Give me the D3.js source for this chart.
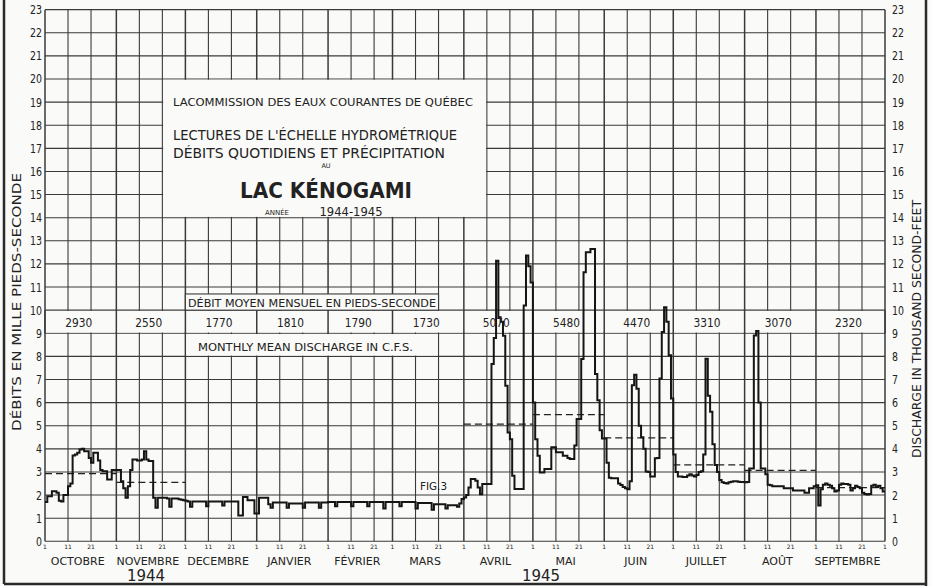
<!DOCTYPE html>
<html lang="fr">
<head>
  <meta charset="UTF-8">
  <title>Lac Kénogami – débits quotidiens 1944-1945</title>
  <script src="https://d3js.org/d3.v7.min.js"></script>
  <style>
    body { margin: 0; background: #fafaf8; }
    svg { display: block; background: #fafaf8; font-family: "DejaVu Sans", sans-serif; }
    .grid line { stroke: #3a3a3a; stroke-width: 1.1; }
    .grid line.mois { stroke-width: 1.5; }
    text { fill: #222; }
  </style>
</head>
<body>

<svg width="931" height="586"></svg>

<script>
  // Débits quotidiens, en milliers de pieds-seconde
  const octobre   = [1.7, 1.95, 1.95, 2.17, 2.17, 2.1, 1.75, 1.72, 2.0, 2.0, 2.38, 2.5, 3.71, 3.75, 3.83, 3.97, 4.0, 3.9, 3.9, 3.6, 3.4, 3.83, 3.83, 3.5, 3.08, 3.03, 3.03, 2.67, 2.67, 3.08, 3.08];
  const novembre  = [3.08, 3.08, 2.6, 2.3, 1.88, 2.38, 3.08, 3.54, 3.54, 3.5, 3.5, 3.54, 3.9, 3.54, 3.47, 3.47, 1.88, 1.45, 1.88, 1.88, 1.88, 1.88, 1.85, 1.5, 1.85, 1.85, 1.85, 1.82, 1.8, 1.78];
  const decembre  = [1.75, 1.72, 1.5, 1.72, 1.72, 1.72, 1.72, 1.72, 1.72, 1.52, 1.72, 1.72, 1.72, 1.72, 1.72, 1.72, 1.55, 1.72, 1.72, 1.72, 1.72, 1.72, 1.72, 1.12, 1.12, 1.92, 1.92, 1.78, 1.78, 1.78, 1.2];
  const janvier   = [1.2, 1.88, 1.88, 1.88, 1.88, 1.6, 1.45, 1.68, 1.68, 1.68, 1.68, 1.68, 1.68, 1.45, 1.64, 1.64, 1.64, 1.64, 1.64, 1.64, 1.45, 1.68, 1.68, 1.68, 1.68, 1.68, 1.68, 1.45, 1.68, 1.68, 1.68];
  const fevrier   = [1.7, 1.7, 1.7, 1.52, 1.7, 1.7, 1.7, 1.7, 1.7, 1.7, 1.52, 1.7, 1.7, 1.7, 1.7, 1.7, 1.7, 1.52, 1.7, 1.7, 1.7, 1.7, 1.7, 1.7, 1.42, 1.7, 1.7, 1.7];
  const mars      = [1.7, 1.7, 1.7, 1.52, 1.7, 1.7, 1.7, 1.7, 1.7, 1.7, 1.42, 1.66, 1.66, 1.66, 1.66, 1.66, 1.66, 1.37, 1.6, 1.6, 1.6, 1.6, 1.6, 1.42, 1.56, 1.56, 1.56, 1.56, 1.49, 1.63, 1.83];
  const avril     = [1.9, 2.0, 2.33, 2.69, 2.69, 2.62, 2.33, 2.04, 2.48, 2.48, 2.48, 2.48, 7.67, 8.8, 12.14, 9.69, 9.5, 8.89, 6.73, 4.71, 4.42, 2.84, 2.26, 2.26, 2.26, 2.26, 10.2, 12.36, 11.9, 11.2];
  const mai       = [6.0, 4.42, 3.7, 2.98, 2.98, 3.13, 3.13, 3.13, 4.07, 4.07, 3.85, 3.85, 3.85, 3.7, 3.7, 3.6, 3.56, 3.56, 4.14, 5.29, 5.29, 7.89, 11.64, 12.51, 12.51, 12.65, 12.65, 7.24, 6.1, 4.8, 4.45];
  const juin      = [4.45, 3.4, 2.75, 2.73, 2.73, 2.73, 2.5, 2.44, 2.35, 2.3, 2.25, 2.6, 6.75, 7.2, 6.6, 5.0, 4.5, 4.0, 3.02, 3.0, 2.8, 2.8, 3.59, 3.6, 7.04, 9.05, 10.13, 9.5, 8.05, 6.18];
  const juillet   = [3.75, 3.0, 2.8, 2.8, 2.78, 2.78, 2.85, 2.9, 2.85, 2.8, 2.87, 3.0, 3.03, 3.75, 7.9, 6.3, 5.6, 4.2, 3.3, 3.0, 2.65, 2.55, 2.52, 2.5, 2.55, 2.58, 2.6, 2.6, 2.58, 2.57, 2.57];
  const aout      = [2.55, 2.57, 3.15, 3.15, 8.9, 9.1, 6.0, 3.15, 3.15, 2.9, 2.45, 2.42, 2.38, 2.38, 2.38, 2.38, 2.38, 2.3, 2.3, 2.3, 2.3, 2.2, 2.2, 2.2, 2.2, 2.2, 2.1, 2.1, 2.3, 2.3, 2.38];
  const septembre = [2.42, 1.55, 2.25, 2.45, 2.5, 2.45, 2.4, 2.3, 2.15, 2.2, 2.45, 2.5, 2.48, 2.48, 2.45, 2.2, 2.3, 2.4, 2.35, 2.3, 2.1, 2.05, 2.02, 2.05, 2.4, 2.45, 2.35, 2.4, 2.3, 2.15];

  // Débit moyen mensuel en pieds-seconde
  const nomsMois = ["OCTOBRE", "NOVEMBRE", "DECEMBRE", "JANVIER", "FÉVRIER", "MARS", "AVRIL", "MAI", "JUIN", "JUILLET", "AOÛT", "SEPTEMBRE"];
  const moyennes = [2930, 2550, 1770, 1810, 1790, 1730, 5070, 5480, 4470, 3310, 3070, 2320];
  // mois dont la moyenne est tracée en tirets (décembre à mars se confondent avec la courbe)
  const moisTiretes = [0, 1, 6, 7, 8, 9, 10, 11];
  const joursRepere = [1, 11, 21];
  const graduations = d3.range(0, 24);

  const svg = d3.select("svg");
  const fond = "#fafaf8";

  const debut = new Date(Date.UTC(1944, 9, 1)),
        fin = new Date(Date.UTC(1945, 9, 1));

  const x = d3.scaleUtc().domain([debut, fin]).range([45, 885]);
  const y = d3.scaleLinear().domain([0, 23]).range([541.3, 9.65]);

  const mois = d3.utcMonths(debut, fin);
  const finMois = i => i < mois.length - 1 ? mois[i + 1] : fin;
  const jour = (m, d) => new Date(Date.UTC(m.getUTCFullYear(), m.getUTCMonth(), d));
  const milieu = i => (x(mois[i]) + x(finMois(i))) / 2;

  const quotidien = [octobre, novembre, decembre, janvier, fevrier, mars,
                     avril, mai, juin, juillet, aout, septembre].flat();
  const serie = quotidien.map((v, i) => ({date: new Date(Date.UTC(1944, 9, 1 + i)), v}));
  serie.push({date: fin, v: quotidien[quotidien.length - 1]});

  // Cadre de la feuille
  svg.append("g")
    .attr("stroke", "#2a2a2a")
    .attr("stroke-width", 2.5)
    .selectAll("line")
    .data([[4, 0, 4, 584], [926, 0, 926, 586], [4, 584, 926, 584]])
    .join("line")
      .attr("x1", d => d[0]).attr("y1", d => d[1])
      .attr("x2", d => d[2]).attr("y2", d => d[3]);

  // Quadrillage
  const verticales = mois.flatMap(m => joursRepere.map(d => ({date: jour(m, d), debutMois: d === 1})))
    .concat([{date: fin, debutMois: true}]);

  const grid = svg.append("g").attr("class", "grid");
  grid.selectAll("line.h")
    .data(graduations)
    .join("line")
      .attr("class", "h")
      .attr("x1", x(debut)).attr("x2", x(fin))
      .attr("y1", d => y(d)).attr("y2", d => y(d));
  grid.selectAll("line.v")
    .data(verticales)
    .join("line")
      .attr("class", d => d.debutMois ? "v mois" : "v")
      .attr("x1", d => x(d.date)).attr("x2", d => x(d.date))
      .attr("y1", y(0)).attr("y2", y(23));

  // Cases blanches (titre, légende, rangée des moyennes)
  function caseBlanche(x0, x1, yHaut, yBas) {
    return svg.append("rect")
      .attr("x", x0 + 0.8).attr("y", yHaut + 0.8)
      .attr("width", x1 - x0 - 1.6).attr("height", yBas - yHaut - 1.6)
      .attr("fill", fond);
  }

  caseBlanche(x(jour(mois[1], 21)), x(jour(mois[6], 11)), y(20), y(14));
  caseBlanche(x(debut), x(fin), y(10), y(9));
  caseBlanche(x(mois[2]), x(jour(mois[5], 21)), y(9), y(8));
  svg.append("rect")
    .attr("x", x(mois[2])).attr("y", y(10.7))
    .attr("width", x(jour(mois[5], 21)) - x(mois[2])).attr("height", y(10) - y(10.7))
    .attr("fill", fond).attr("stroke", "#3a3a3a").attr("stroke-width", 1.1);

  // séparateurs de mois dans la rangée des moyennes
  svg.append("g").attr("class", "grid")
    .selectAll("line")
    .data(mois.concat([fin]))
    .join("line")
      .attr("class", "mois")
      .attr("x1", d => x(d)).attr("x2", d => x(d))
      .attr("y1", y(10)).attr("y2", y(9));

  // Moyennes mensuelles en tirets
  svg.append("g")
    .selectAll("line")
    .data(moisTiretes)
    .join("line")
      .attr("x1", i => x(mois[i]))
      .attr("x2", i => x(finMois(i)))
      .attr("y1", i => y(moyennes[i] / 1000)).attr("y2", i => y(moyennes[i] / 1000))
      .attr("stroke", "#222")
      .attr("stroke-width", 1.3)
      .attr("stroke-dasharray", "7,4");

  // Hydrogramme quotidien
  const ligne = d3.line()
    .x(d => x(d.date))
    .y(d => y(d.v))
    .curve(d3.curveStepAfter);

  svg.append("path")
    .datum(serie)
    .attr("d", ligne)
    .attr("fill", "none")
    .attr("stroke", "#151515")
    .attr("stroke-width", 2)
    .attr("stroke-linejoin", "miter");

  // Axes gauche et droit
  svg.append("g")
    .selectAll("text")
    .data(graduations)
    .join("text")
      .attr("x", 42).attr("y", d => y(d) + 4.5)
      .attr("text-anchor", "end")
      .attr("font-size", 13)
      .attr("textLength", d => String(d).length * 6)
      .attr("lengthAdjust", "spacingAndGlyphs")
      .text(d => d);

  svg.append("g")
    .selectAll("text")
    .data(graduations)
    .join("text")
      .attr("x", 892).attr("y", d => y(d) + 4.5)
      .attr("font-size", 11.5)
      .attr("textLength", d => String(d).length * 6)
      .attr("lengthAdjust", "spacingAndGlyphs")
      .text(d => d);

  svg.append("text")
    .attr("transform", "translate(21,302) rotate(-90)")
    .attr("text-anchor", "middle")
    .attr("font-size", 13)
    .attr("textLength", 258)
    .attr("lengthAdjust", "spacingAndGlyphs")
    .text("DÉBITS EN MILLE PIEDS-SECONDE");

  svg.append("text")
    .attr("transform", "translate(921,329) rotate(-90)")
    .attr("text-anchor", "middle")
    .attr("font-size", 12.5)
    .attr("textLength", 258)
    .attr("lengthAdjust", "spacingAndGlyphs")
    .text("DISCHARGE IN THOUSAND SECOND-FEET");

  // Axe des temps
  svg.append("g")
    .selectAll("text")
    .data(verticales)
    .join("text")
      .attr("x", d => x(d.date)).attr("y", 549)
      .attr("text-anchor", "middle")
      .attr("font-size", 6)
      .text(d => d.date.getUTCDate());

  svg.append("g")
    .selectAll("text")
    .data(nomsMois)
    .join("text")
      .attr("x", (d, i) => milieu(i) - 3).attr("y", 565)
      .attr("text-anchor", "middle")
      .attr("font-size", 11)
      .text(d => d);

  svg.append("text").attr("x", 146).attr("y", 581)
    .attr("text-anchor", "middle").attr("font-size", 15).text("1944");
  svg.append("text").attr("x", 541).attr("y", 581)
    .attr("text-anchor", "middle").attr("font-size", 15).text("1945");

  // Rangée des moyennes
  svg.append("g")
    .selectAll("text")
    .data(moyennes)
    .join("text")
      .attr("x", (d, i) => milieu(i) - 2).attr("y", y(9.5) + 5)
      .attr("text-anchor", "middle")
      .attr("font-size", 12.5)
      .attr("textLength", 27)
      .attr("lengthAdjust", "spacingAndGlyphs")
      .text(d => d);

  svg.append("text").attr("x", 188).attr("y", 307)
    .attr("font-size", 11).attr("textLength", 248).attr("lengthAdjust", "spacingAndGlyphs")
    .text("DÉBIT MOYEN MENSUEL EN PIEDS-SECONDE");
  svg.append("text").attr("x", 198).attr("y", 350.5)
    .attr("font-size", 11).attr("textLength", 215).attr("lengthAdjust", "spacingAndGlyphs")
    .text("MONTHLY MEAN DISCHARGE IN C.F.S.");

  // Cartouche
  const cartouche = svg.append("g");
  cartouche.append("text").attr("x", 173).attr("y", 106)
    .attr("font-size", 11).attr("textLength", 300).attr("lengthAdjust", "spacingAndGlyphs")
    .text("LACOMMISSION DES EAUX COURANTES DE QUÉBEC");
  cartouche.append("text").attr("x", 173).attr("y", 139.5)
    .attr("font-size", 14.5).attr("textLength", 284).attr("lengthAdjust", "spacingAndGlyphs")
    .text("LECTURES DE L'ÉCHELLE HYDROMÉTRIQUE");
  cartouche.append("text").attr("x", 173).attr("y", 158)
    .attr("font-size", 14.5).attr("textLength", 272).attr("lengthAdjust", "spacingAndGlyphs")
    .text("DÉBITS QUOTIDIENS ET PRÉCIPITATION");
  cartouche.append("text").attr("x", 326).attr("y", 168)
    .attr("text-anchor", "middle").attr("font-size", 6.5).text("AU");
  cartouche.append("text").attr("x", 326).attr("y", 198)
    .attr("text-anchor", "middle").attr("font-size", 21).attr("font-weight", "bold")
    .attr("textLength", 172).attr("lengthAdjust", "spacingAndGlyphs")
    .text("LAC KÉNOGAMI");
  cartouche.append("text").attr("x", 277).attr("y", 215)
    .attr("text-anchor", "middle").attr("font-size", 7).text("ANNÉE");
  cartouche.append("text").attr("x", 351).attr("y", 215.5)
    .attr("text-anchor", "middle").attr("font-size", 12)
    .attr("textLength", 63).attr("lengthAdjust", "spacingAndGlyphs")
    .text("1944-1945");

  svg.append("text").attr("x", 420).attr("y", 490)
    .attr("font-size", 11).attr("textLength", 27).attr("lengthAdjust", "spacingAndGlyphs")
    .text("FIG.3");
</script>

</body>
</html>
